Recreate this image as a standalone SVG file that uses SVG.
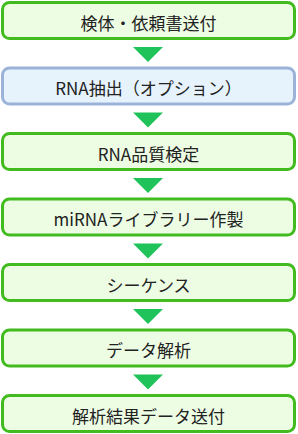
<svg xmlns="http://www.w3.org/2000/svg" width="298" height="434" viewBox="0 0 298 434">
<style>
.box{fill:#edfde4;stroke:#42bb1f;stroke-width:3}
.opt{fill:#e6f3fc;stroke:#9cb3d9;stroke-width:3}
.arr{fill:#20c35a}
text{font-family:"Noto Sans CJK JP","Noto Sans",sans-serif;font-size:17px;fill:#222;text-anchor:middle}
</style>
<rect width="298" height="434" fill="#ffffff"/>
<g id="connectors">
<polygon class="arr" points="133,47 163,47 148,62"/>
<polygon class="arr" points="133,112.5 163,112.5 148,127.5"/>
<polygon class="arr" points="133,178 163,178 148,193"/>
<polygon class="arr" points="133,243.5 163,243.5 148,258.5"/>
<polygon class="arr" points="133,309 163,309 148,324"/>
<polygon class="arr" points="133,374.5 163,374.5 148,389.5"/>
</g>
<g id="n1"><rect class="box" x="2.5" y="2.5" width="292" height="36" rx="7"/><text x="148.5" y="29.5">検体・依頼書送付</text></g>
<g id="n2"><rect class="opt" x="2.5" y="68" width="292" height="36" rx="7"/><text x="148.5" y="95">RNA抽出（オプション）</text></g>
<g id="n3"><rect class="box" x="2.5" y="133.5" width="292" height="36" rx="7"/><text x="148.5" y="160.5">RNA品質検定</text></g>
<g id="n4"><rect class="box" x="2.5" y="199" width="292" height="36" rx="7"/><text x="148.5" y="226">miRNAライブラリー作製</text></g>
<g id="n5"><rect class="box" x="2.5" y="264.5" width="292" height="36" rx="7"/><text x="148.5" y="291.5">シーケンス</text></g>
<g id="n6"><rect class="box" x="2.5" y="330" width="292" height="36" rx="7"/><text x="148.5" y="357">データ解析</text></g>
<g id="n7"><rect class="box" x="2.5" y="395.5" width="292" height="36" rx="7"/><text x="148.5" y="422.5">解析結果データ送付</text></g>
</svg>
